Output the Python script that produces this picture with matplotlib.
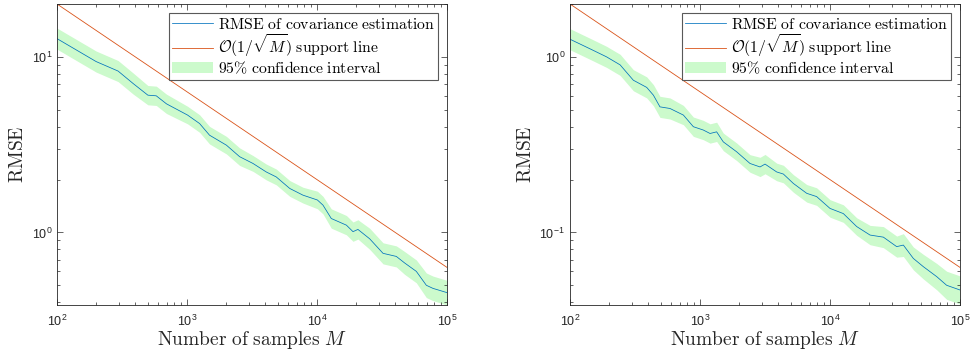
import numpy as np
import matplotlib
matplotlib.use("Agg")
import matplotlib.pyplot as plt

plt.rcParams['font.family'] = ['Liberation Sans', 'DejaVu Sans']
plt.rcParams['mathtext.fontset'] = 'cm'

# left panel
M_left = [100, 200, 295, 385, 500, 580, 695, 1010, 1250, 1490, 2010, 2540, 3220, 4070,
          4860, 6170, 7800, 10070, 11120, 12880, 16830, 18920, 20650, 25410, 32210,
          40740, 47210, 58070, 69340, 78000, 100000]
rmse_left = [12.7, 9.4, 8.3, 7.05, 6.05, 6.0, 5.4, 4.66, 4.17, 3.58, 3.14, 2.70, 2.47, 2.21,
             2.07, 1.78, 1.63, 1.53, 1.43, 1.20, 1.10, 1.01, 1.04, 0.92, 0.76,
             0.73, 0.67, 0.60, 0.50, 0.48, 0.454]
ci_left = [0.06, 0.06, 0.06, 0.06, 0.055, 0.055, 0.055, 0.05, 0.05, 0.05, 0.05, 0.05, 0.045,
           0.045, 0.045, 0.045, 0.045, 0.05, 0.05, 0.055, 0.055, 0.055, 0.055, 0.06, 0.06,
           0.06, 0.065, 0.065, 0.07, 0.07, 0.07]  # half width in decades
support_left = [20.0, 0.632]

# right panel
M_right = [100, 143, 191, 243, 307, 389, 438, 492, 588, 745, 889, 1060, 1195, 1343, 1510,
           1913, 2425, 2896, 3165, 3890, 4380, 5230, 6620, 7890, 10000, 12670, 16040,
           20320, 25730, 32580, 36670, 43750, 52250, 66200, 78900, 100000]
rmse_right = [1.26, 1.11, 1.0, 0.90, 0.736, 0.67, 0.605, 0.519, 0.508, 0.466, 0.40, 0.383,
              0.366, 0.374, 0.328, 0.288, 0.247, 0.236, 0.245, 0.221, 0.215, 0.19, 0.167,
              0.16, 0.137, 0.128, 0.108, 0.0966, 0.094, 0.083, 0.0847, 0.0711, 0.0638,
              0.056, 0.050, 0.047]
ci_right = [0.06, 0.06, 0.06, 0.06, 0.06, 0.06, 0.06, 0.06, 0.06, 0.055, 0.055, 0.055, 0.055,
            0.055, 0.05, 0.05, 0.05, 0.055, 0.055, 0.05, 0.05, 0.05, 0.05, 0.05, 0.05, 0.05,
            0.05, 0.055, 0.06, 0.06, 0.065, 0.065, 0.07, 0.075, 0.08, 0.08]
support_right = [2.0, 0.0632]

support_M = [100, 100000]

blue = '#0072BD'
orange = '#D95319'
green = '#ccfacc'
axcol = '0.15'

fig = plt.figure(figsize=(9.71, 3.58), dpi=100)
ax1 = fig.add_axes([57/971, 53/358, 390/971, 301/358])
ax2 = fig.add_axes([570/971, 53/358, 390/971, 301/358])

panels = [
    (ax1, M_left, rmse_left, ci_left, support_left, (0.386, 20.0)),
    (ax2, M_right, rmse_right, ci_right, support_right, (0.0386, 2.0)),
]

for ax, M, r, ci, sup, ylim in panels:
    M = np.array(M)
    r = np.array(r)
    ci = np.array(ci)
    band = ax.fill_between(M, r / 10**ci, r * 10**ci, color=green, lw=0)
    l1, = ax.plot(M, r, color=blue, lw=0.55)
    l2, = ax.plot(support_M, sup, color=orange, lw=0.6)
    ax.set_xscale('log')
    ax.set_yscale('log')
    ax.set_xlim(100, 1e5)
    ax.set_ylim(*ylim)
    ax.tick_params(which='both', direction='in', top=True, right=True,
                   colors=axcol, labelsize=9, width=0.5)
    ax.tick_params(which='major', length=4)
    ax.tick_params(which='minor', length=2)
    ax.tick_params(axis='x', pad=6)
    for s in ax.spines.values():
        s.set_color(axcol)
        s.set_linewidth(0.6)
    ax.set_xlabel(r'$\mathrm{Number\ of\ samples}\ M$', fontsize=14, color=axcol, labelpad=0)
    ax.set_ylabel(r'$\mathrm{RMSE}$', fontsize=14, color=axcol, labelpad=3)
    leg = ax.legend([l1, l2, band],
                    [r'$\mathrm{RMSE\ of\ covariance\ estimation}$',
                     r'$\mathcal{O}(1/\sqrt{M})\ \mathrm{support\ line}$',
                     r'$95\%\ \mathrm{confidence\ interval}$'],
                    loc='upper right', fontsize=11.3, fancybox=False, framealpha=1,
                    edgecolor='0.35', borderaxespad=0.6, handlelength=2.6,
                    handletextpad=0.3, labelspacing=0.05, borderpad=0.2)
    leg.get_frame().set_linewidth(0.8)

fig.savefig('out.png', dpi=100)
